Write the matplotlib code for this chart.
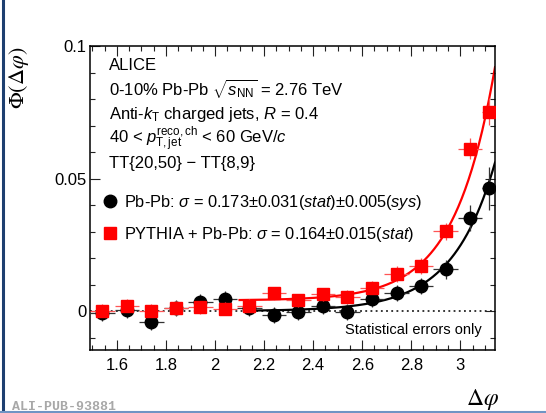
import numpy as np
import matplotlib
matplotlib.use("Agg")
import matplotlib.pyplot as plt
from matplotlib.lines import Line2D
from matplotlib.ticker import MultipleLocator, FixedLocator, FixedFormatter

plt.rcParams['font.family'] = ['Liberation Sans', 'DejaVu Sans']
plt.rcParams['mathtext.fontset'] = 'custom'
plt.rcParams['mathtext.rm'] = 'Liberation Sans'
plt.rcParams['mathtext.it'] = 'Liberation Sans:italic'
plt.rcParams['mathtext.bf'] = 'Liberation Sans:bold'

# ---------------- data ----------------
bin_centers = [1.54, 1.64, 1.74, 1.84, 1.94, 2.04, 2.14, 2.24, 2.34, 2.44,
               2.54, 2.64, 2.74, 2.84, 2.94, 3.04, 3.116]
bin_halfwidths = [0.05] * 16 + [0.026]

pbpb_vals = [-0.0006, 0.0004, -0.0041, 0.0010, 0.0033, 0.0047, 0.0010, -0.0015,
             -0.0002, 0.0020, -0.0002, 0.0044, 0.0069, 0.0096, 0.0157, 0.0351, 0.0463]
pbpb_errs = [0.003] * 13 + [0.003, 0.0035, 0.005, 0.008]

pythia_vals = [0.0002, 0.0020, 0.0002, 0.0011, 0.0014, 0.0009, 0.0020, 0.0067,
               0.0041, 0.0063, 0.0054, 0.0088, 0.0139, 0.0171, 0.0301, 0.0613, 0.0752]
pythia_errs = [0.0025] * 12 + [0.003, 0.003, 0.0033, 0.004, 0.005]

# fit parameters: A*exp((dphi - pi)/sigma) + pedestal
pbpb_fit_amp, pbpb_fit_sigma, pbpb_fit_ped, pbpb_fit_start = 0.0560, 0.173, 0.0, 2.17
pythia_fit_amp, pythia_fit_sigma, pythia_fit_ped, pythia_fit_start = 0.088, 0.164, 0.004, 2.10

xticks = [1.6, 1.8, 2.0, 2.2, 2.4, 2.6, 2.8, 3.0]
xtick_labels = ["1.6", "1.8", "2", "2.2", "2.4", "2.6", "2.8", "3"]
yticks = [0.0, 0.05, 0.1]
ytick_labels = ["0", "0.05", "0.1"]

W, H = 546, 413
fig = plt.figure(figsize=(W / 100, H / 100), dpi=100)
ax = fig.add_axes([90 / W, 1 - 350 / H, 405 / W, 304 / H])

ax.set_xlim(1.49, np.pi)
ax.set_ylim(-0.0147, 0.1)

ax.axhline(0, color='black', lw=1.1, ls=(0, (1.2, 2.2)), zorder=1)

def fit(x, a, s, p):
    return a * np.exp((x - np.pi) / s) + p

xb = np.linspace(pbpb_fit_start, np.pi, 300)
ax.plot(xb, fit(xb, pbpb_fit_amp, pbpb_fit_sigma, pbpb_fit_ped), color='black', lw=1.6, zorder=2)
xr = np.linspace(pythia_fit_start, np.pi, 300)
ax.plot(xr, fit(xr, pythia_fit_amp, pythia_fit_sigma, pythia_fit_ped), color='#ff0000', lw=1.6, zorder=2)

eb_k = ax.errorbar(bin_centers, pbpb_vals, yerr=pbpb_errs, xerr=bin_halfwidths,
                   fmt='o', color='black', ms=9, elinewidth=0.9, capsize=0, zorder=3)
eb_r = ax.errorbar(bin_centers, pythia_vals, yerr=pythia_errs, xerr=bin_halfwidths,
                   fmt='s', color='#ff0000', ms=8.5, elinewidth=0.9, capsize=0, zorder=4)
for c in eb_k[2]:
    c.set_color('#333333')
for c in eb_r[2]:
    c.set_color('#ff5555')

ax.xaxis.set_major_locator(FixedLocator(xticks))
ax.xaxis.set_major_formatter(FixedFormatter(xtick_labels))
ax.xaxis.set_minor_locator(MultipleLocator(0.05))
ax.yaxis.set_major_locator(FixedLocator(yticks))
ax.yaxis.set_major_formatter(FixedFormatter(ytick_labels))
ax.yaxis.set_minor_locator(MultipleLocator(0.01))
ax.tick_params(which='both', direction='in', top=True, right=True, width=0.8, color='#222222')
ax.tick_params(which='major', length=7.5, labelsize=12)
ax.tick_params(which='minor', length=3.8)
ax.tick_params(axis='x', which='major', pad=6)
ax.tick_params(axis='y', which='major', pad=2.5)
for sp in ax.spines.values():
    sp.set_linewidth(1.1)

leg = ax.legend([eb_k[0], eb_r[0]],
                [r"Pb-Pb: $\sigma$ = 0.173±0.031($stat$)±0.005($sys$)",
                 r"PYTHIA + Pb-Pb: $\sigma$ = 0.164±0.015($stat$)"],
                loc='upper left', bbox_to_anchor=(105 / W, 1 - 193 / H),
                bbox_transform=fig.transFigure, frameon=False, fontsize=11.8,
                handlelength=0.6, handletextpad=0.55, labelspacing=0.78,
                borderpad=0, borderaxespad=0, markerscale=1.0)

def ftext(x, y, s, **kw):
    fig.text(x / W, 1 - y / H, s, **kw)

lines = ["ALICE",
         r"0-10% Pb-Pb $\sqrt{s_{\rm NN}}$ = 2.76 TeV",
         r"Anti-$k_{\rm T}$ charged jets, $R$ = 0.4",
         r"40 < $p_{\rm T,jet}^{\rm reco,ch}$ < 60 GeV/$c$",
         "TT{20,50} − TT{8,9}"]
baselines = [70, 95, 119.5, 143.5, 168]
for s, b in zip(lines, baselines):
    ftext(109, b, s, fontsize=12, va='baseline', ha='left')

ftext(482, 330, "Statistical errors only", fontsize=10.5, va='center', ha='right')

ftext(19, 46, r"$\Phi(\Delta\varphi)$", fontsize=16, rotation=90, ha='center', va='top',
      math_fontfamily='stix')
ftext(482, 399, r"$\Delta\varphi$", fontsize=17, ha='center', va='center',
      math_fontfamily='stix')
ftext(12, 407, "ALI-PUB-93881", fontsize=9.5, family=['Liberation Mono', 'DejaVu Sans Mono'],
      color='#a8a8a8', fontweight='bold', ha='left', va='center')

fig.add_artist(Line2D([2.5 / W, 2.5 / W], [0, 1], transform=fig.transFigure,
                      color='#1d3f70', lw=2.2))
fig.add_artist(Line2D([0, 1], [1 - 411.5 / H, 1 - 411.5 / H], transform=fig.transFigure,
                      color='#6f94c4', lw=1.5))

fig.savefig("out.png", dpi=100)
